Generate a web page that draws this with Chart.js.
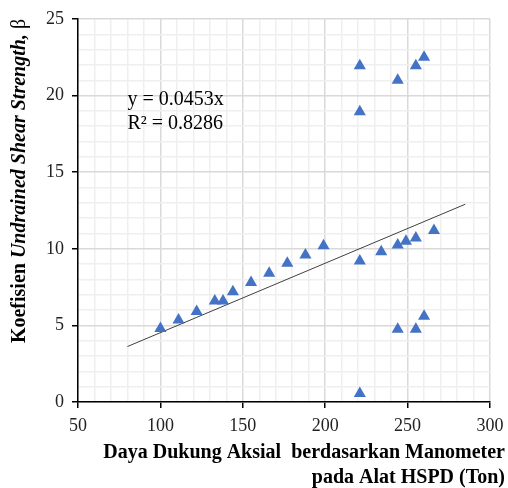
<!DOCTYPE html>
<html>
<head>
<meta charset="utf-8">
<script src="https://cdn.jsdelivr.net/npm/chart.js@4.4.1/dist/chart.umd.min.js"></script>
<style>
  html, body { margin: 0; padding: 0; background: #fff; }
  #wrap { width: 508px; height: 488px; }
</style>
</head>
<body>
<div id="wrap"><canvas id="chart" width="508" height="488"></canvas></div>
<script>
// data
const xVals = [100, 111, 122, 133, 138, 144, 155, 166, 177, 188, 199, 221, 234, 244, 249, 255, 266,
               221, 221, 221, 244, 244, 255, 255, 260, 260];
const yVals = [4.8, 5.35, 5.9, 6.6, 6.6, 7.2, 7.8, 8.4, 9.05, 9.6, 10.2, 9.2, 9.8, 10.25, 10.5, 10.7, 11.2,
               21.95, 18.95, 0.55, 21.0, 4.75, 21.95, 4.75, 22.5, 5.6];
const trendX = [80, 285];
const trendY = [3.62, 12.91];
const eqLines = ["y = 0.0453x", "R\u00b2 = 0.8286"];
const xTitle = ["Daya Dukung Aksial  berdasarkan Manometer", "pada Alat HSPD (Ton)"];

const SERIF = "'Liberation Serif', 'Times New Roman', serif";
const points = xVals.map((x, i) => ({ x: x, y: yVals[i] }));
const trend = trendX.map((x, i) => ({ x: x, y: trendY[i] }));

// titles + equation drawn by hand (mixed bold / italic)
const textPlugin = {
    id: "texts",
    afterDraw(chart) {
        const ctx = chart.ctx;
        const xs = chart.scales.x, ys = chart.scales.y;
        ctx.save();
        ctx.fillStyle = "#000";

        // equation
        ctx.font = "20px " + SERIF;
        ctx.textAlign = "left";
        ctx.textBaseline = "middle";
        ctx.fillText(eqLines[0], xs.getPixelForValue(80), ys.getPixelForValue(19.7));
        ctx.fillText(eqLines[1], xs.getPixelForValue(80), ys.getPixelForValue(18.15));

        // x title
        ctx.font = "bold 20px " + SERIF;
        ctx.textAlign = "right";
        ctx.fillText(xTitle[0], 505, 453);
        ctx.fillText(xTitle[1], 505, 478);

        // y title
        const parts = [
            ["bold 20px " + SERIF, "Koefisien "],
            ["italic bold 20px " + SERIF, "Undrained Shear Strength,"],
            ["20px " + SERIF, " \u03b2"]
        ];
        let total = 0;
        parts.forEach(p => { ctx.font = p[0]; total += ctx.measureText(p[1]).width; });
        ctx.translate(20, 181);
        ctx.rotate(-Math.PI / 2);
        ctx.textAlign = "left";
        let pos = -total / 2;
        parts.forEach(p => {
            ctx.font = p[0];
            ctx.fillText(p[1], pos, 0);
            pos += ctx.measureText(p[1]).width;
        });
        ctx.restore();
    }
};

new Chart(document.getElementById("chart"), {
    type: "scatter",
    data: {
        datasets: [
            {
                data: points,
                pointStyle: "triangle",
                pointRadius: 7,
                pointHoverRadius: 7,
                backgroundColor: "#4472C4",
                borderColor: "#4472C4",
                borderWidth: 0
            },
            {
                type: "line",
                data: trend,
                borderColor: "#404040",
                borderWidth: 1,
                pointRadius: 0,
                fill: false
            }
        ]
    },
    options: {
        responsive: false,
        animation: false,
        events: [],
        layout: { padding: { top: 19, right: 18, left: 0, bottom: 0 } },
        plugins: { legend: { display: false }, tooltip: { enabled: false } },
        scales: {
            x: {
                type: "linear",
                min: 50, max: 300,
                afterFit(s) { s.height = 86; s.paddingRight = 0; s.paddingLeft = 0; },
                border: { color: "#000", width: 1.5 },
                grid: {
                    color: c => c.tick && c.tick.value % 50 === 0 ? "#d9d9d9" : "#efefef",
                    lineWidth: 1.5,
                    tickLength: 6,
                    tickColor: c => c.tick && c.tick.value % 50 === 0 ? "#000" : "rgba(0,0,0,0)",
                    tickWidth: 1.5
                },
                ticks: {
                    stepSize: 10,
                    autoSkip: false,
                    maxRotation: 0,
                    padding: 7,
                    color: "#222",
                    font: { family: SERIF, size: 18 },
                    callback: v => v % 50 === 0 ? v : ""
                }
            },
            y: {
                min: 0, max: 25,
                afterFit(s) { s.width = 78; },
                border: { color: "#000", width: 1.5 },
                grid: {
                    color: c => c.tick && c.tick.value % 5 === 0 ? "#d9d9d9" : "#efefef",
                    lineWidth: 1.5,
                    tickLength: 6,
                    tickColor: c => c.tick && c.tick.value % 5 === 0 ? "#000" : "rgba(0,0,0,0)",
                    tickWidth: 1.5
                },
                ticks: {
                    stepSize: 1,
                    autoSkip: false,
                    padding: 8,
                    color: "#222",
                    font: { family: SERIF, size: 18 },
                    callback: v => v % 5 === 0 ? v : ""
                }
            }
        }
    },
    plugins: [textPlugin]
});
</script>
</body>
</html>
